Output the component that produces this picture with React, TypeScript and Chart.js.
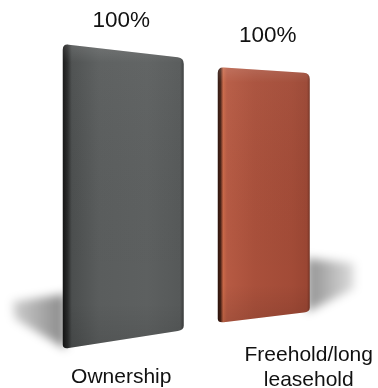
import React, { useEffect, useRef } from "react";
import { Chart, registerables } from "chart.js";

Chart.register(...registerables);

const categories = ["Ownership", "Freehold/long leasehold"];
const categoryLines = [["Ownership"], ["Freehold/long", "leasehold"]];
const ownershipValues = [100, null];
const freeholdValues = [null, 100];
const valueLabels = ["100%", "100%"];

// visual styling per bar (perspective skew, gradient)
const barLook = [
  {
    dTop: 14,
    dBot: 19,
    radius: 6,
    stops: [
      [0, "#141414"],
      [0.04, "#2a2b2b"],
      [0.075, "#4b4e4e"],
      [0.3, "#5a5d5d"],
      [0.7, "#5d6060"],
      [0.97, "#565959"],
      [1, "#3a3c3c"],
    ],
    labelDx: -2,
    labelDy: 17,
    catDx: -2,
    catBaselines: [383],
  },
  {
    dTop: 6,
    dBot: 11,
    radius: 6,
    stops: [
      [0, "#2a120b"],
      [0.03, "#4a2216"],
      [0.06, "#c96848"],
      [0.1, "#b65a43"],
      [0.4, "#a9503b"],
      [0.8, "#a24b37"],
      [0.97, "#9a4633"],
      [1, "#743324"],
    ],
    labelDx: 4,
    labelDy: 25,
    catDx: 45,
    catBaselines: [361, 386],
  },
];

function barPath(ctx: CanvasRenderingContext2D, l: number, r: number, tl: number, tr: number, bl: number, br: number, rad: number) {
  const w = r - l;
  const st = (tr - tl) / w;
  const sb = (br - bl) / w;
  ctx.beginPath();
  ctx.moveTo(l, tl + rad);
  ctx.quadraticCurveTo(l, tl, l + rad, tl + st * rad);
  ctx.lineTo(r - rad, tr - st * rad);
  ctx.quadraticCurveTo(r, tr, r, tr + rad);
  ctx.lineTo(r, br - rad * 0.7);
  ctx.quadraticCurveTo(r, br, r - rad, br - sb * rad);
  ctx.lineTo(l + rad, bl + sb * rad);
  ctx.quadraticCurveTo(l, bl, l, bl - rad * 0.7);
  ctx.closePath();
}

const look3d = {
  id: "look3d",
  beforeDatasetsDraw(chart: any) {
    const ctx = chart.ctx as CanvasRenderingContext2D;
    chart.data.datasets.forEach((ds: any, di: number) => {
      const meta = chart.getDatasetMeta(di);
      meta.data.forEach((el: any, i: number) => {
        if (ds.data[i] == null) return;
        const { x, y, base, width } = el.getProps(["x", "y", "base", "width"], true);
        const l = x - width / 2;
        const r = x + width / 2;
        const h = base - y;
        ctx.save();
        ctx.filter = "blur(5px)";
        ctx.beginPath();
        if (di === 0) {
          const g = ctx.createLinearGradient(l, 0, l - 52, 0);
          g.addColorStop(0, "rgba(0,0,0,0.45)");
          g.addColorStop(1, "rgba(0,0,0,0.18)");
          ctx.fillStyle = g;
          ctx.moveTo(l + 3, base - h * 0.18);
          ctx.lineTo(l - 50, base - h * 0.155);
          ctx.lineTo(l - 48, base - h * 0.1);
          ctx.lineTo(l + 3, base);
        } else {
          const g = ctx.createLinearGradient(r, 0, r + 46, 0);
          g.addColorStop(0, "rgba(0,0,0,0.42)");
          g.addColorStop(1, "rgba(0,0,0,0.12)");
          ctx.fillStyle = g;
          const br = base - barLook[di].dBot;
          ctx.moveTo(r - 3, br - h * 0.21);
          ctx.lineTo(r + 44, br - h * 0.19);
          ctx.lineTo(r + 44, br - h * 0.09);
          ctx.lineTo(r - 3, br);
        }
        ctx.closePath();
        ctx.fill();
        ctx.restore();
      });
    });
  },
  afterDatasetsDraw(chart: any) {
    const ctx = chart.ctx as CanvasRenderingContext2D;
    chart.data.datasets.forEach((ds: any, di: number) => {
      const meta = chart.getDatasetMeta(di);
      const lk = barLook[di];
      meta.data.forEach((el: any, i: number) => {
        if (ds.data[i] == null) return;
        const { x, y, base, width } = el.getProps(["x", "y", "base", "width"], true);
        const l = x - width / 2;
        const r = x + width / 2;
        const tl = y;
        const tr = y + lk.dTop;
        const bl = base;
        const br = base - lk.dBot;
        ctx.save();
        barPath(ctx, l, r, tl, tr, bl, br, lk.radius);
        const g = ctx.createLinearGradient(l, 0, r, 0);
        lk.stops.forEach(([p, c]) => g.addColorStop(p as number, c as string));
        ctx.fillStyle = g;
        ctx.fill();
        ctx.clip();
        const v = ctx.createLinearGradient(0, tl, 0, bl);
        v.addColorStop(0, "rgba(255,255,255,0.14)");
        v.addColorStop(0.06, "rgba(255,255,255,0.03)");
        v.addColorStop(0.85, "rgba(0,0,0,0)");
        v.addColorStop(1, "rgba(0,0,0,0.1)");
        ctx.fillStyle = v;
        ctx.fillRect(l, tl, r - l, bl - tl);
        ctx.restore();

        // value label
        ctx.save();
        ctx.fillStyle = "#111";
        ctx.font = "22.5px 'Liberation Sans', Arial, sans-serif";
        ctx.textAlign = "center";
        ctx.textBaseline = "alphabetic";
        ctx.fillText(valueLabels[i], x + lk.labelDx, y - lk.labelDy);
        // category label
        ctx.font = "21px 'Liberation Sans', Arial, sans-serif";
        categoryLines[i].forEach((line, li) => {
          ctx.fillText(line, x + lk.catDx, lk.catBaselines[li]);
        });
        ctx.restore();
      });
    });
  },
};

export default function App() {
  const ref = useRef<HTMLCanvasElement>(null);
  useEffect(() => {
    if (!ref.current) return;
    const chart = new Chart(ref.current, {
      type: "bar",
      data: {
        labels: categories,
        datasets: [
          {
            label: "Ownership",
            data: ownershipValues,
            yAxisID: "y",
            grouped: false,
            barThickness: 121,
            backgroundColor: "rgba(0,0,0,0)",
          },
          {
            label: "Freehold/long leasehold",
            data: freeholdValues,
            yAxisID: "y2",
            grouped: false,
            barThickness: 92,
            backgroundColor: "rgba(0,0,0,0)",
          },
        ] as any,
      },
      options: {
        animation: false,
        responsive: false,
        maintainAspectRatio: false,
        layout: { padding: { left: 53, right: 44, top: 44, bottom: 39 } },
        plugins: { legend: { display: false }, tooltip: { enabled: false } },
        scales: {
          x: { display: false },
          y: { display: false, min: 0, max: 100 },
          y2: { display: false, min: -10.2, max: 109 },
        },
      },
      plugins: [look3d],
    });
    return () => chart.destroy();
  }, []);
  return (
    <div style={{ position: "absolute", left: 0, top: 0, width: 378, height: 388, background: "#fff" }}>
      <canvas ref={ref} width={378} height={388} style={{ display: "block" }} />
    </div>
  );
}
